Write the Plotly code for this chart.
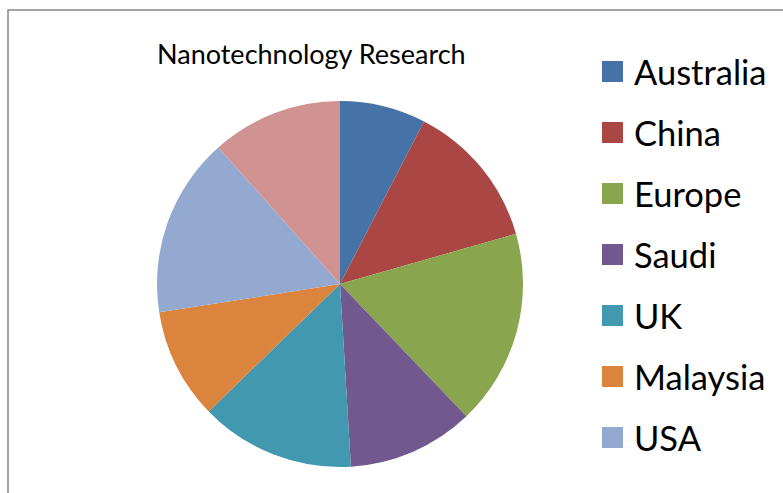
import plotly.graph_objects as go

W, H = 783, 493

categories = ["Australia", "China", "Europe", "Saudi", "UK", "Malaysia", "USA", "Other"]
values = [7.6, 13.0, 17.3, 11.2, 13.7, 9.8, 15.9, 11.6]
colors = ["#4572A7", "#AA4643", "#89A54E", "#71588F", "#4198AF", "#DB843D", "#93A9CF", "#D19392"]
title_text = "Nanotechnology Research"
legend_visible = 7  # the eighth entry falls below the visible area

fig = go.Figure()
fig.add_trace(go.Pie(
    labels=categories,
    values=values,
    marker=dict(colors=colors, line=dict(width=0)),
    sort=False,
    direction="clockwise",
    rotation=0,
    textinfo="none",
    hoverinfo="label+percent",
    showlegend=False,
    domain=dict(x=[157 / W, 523 / W], y=[1 - 467 / H, 1 - 101 / H]),
))

def px(x):
    return x / W

def py(y):
    return 1 - y / H

annotations = [dict(
    text=title_text, x=px(311), y=py(53), xref="paper", yref="paper",
    showarrow=False, xanchor="center", yanchor="middle",
    font=dict(family="Lato, Calibri, sans-serif", size=27, color="#000000"),
)]
shapes = [dict(
    type="rect", xref="paper", yref="paper",
    x0=px(8), x1=px(800), y0=py(510), y1=py(10),
    line=dict(color="#868686", width=1.5), fillcolor="rgba(0,0,0,0)",
)]

for i in range(legend_visible):
    cy = 71.5 + 61 * i
    shapes.append(dict(
        type="rect", xref="paper", yref="paper",
        x0=px(602), x1=px(623), y0=py(cy + 10.5), y1=py(cy - 10.5),
        line=dict(width=0), fillcolor=colors[i],
    ))
    annotations.append(dict(
        text=categories[i], x=px(632), y=py(cy), xref="paper", yref="paper",
        showarrow=False, xanchor="left", yanchor="middle",
        font=dict(family="Lato, Calibri, sans-serif", size=34.5, color="#000000"),
    ))

fig.update_layout(
    width=W, height=H,
    margin=dict(l=0, r=0, t=0, b=0),
    paper_bgcolor="white", plot_bgcolor="white",
    annotations=annotations, shapes=shapes,
)

fig.write_html(
    "out.html",
    config={"displayModeBar": False},
    post_script="document.body.style.margin='0px';",
)
